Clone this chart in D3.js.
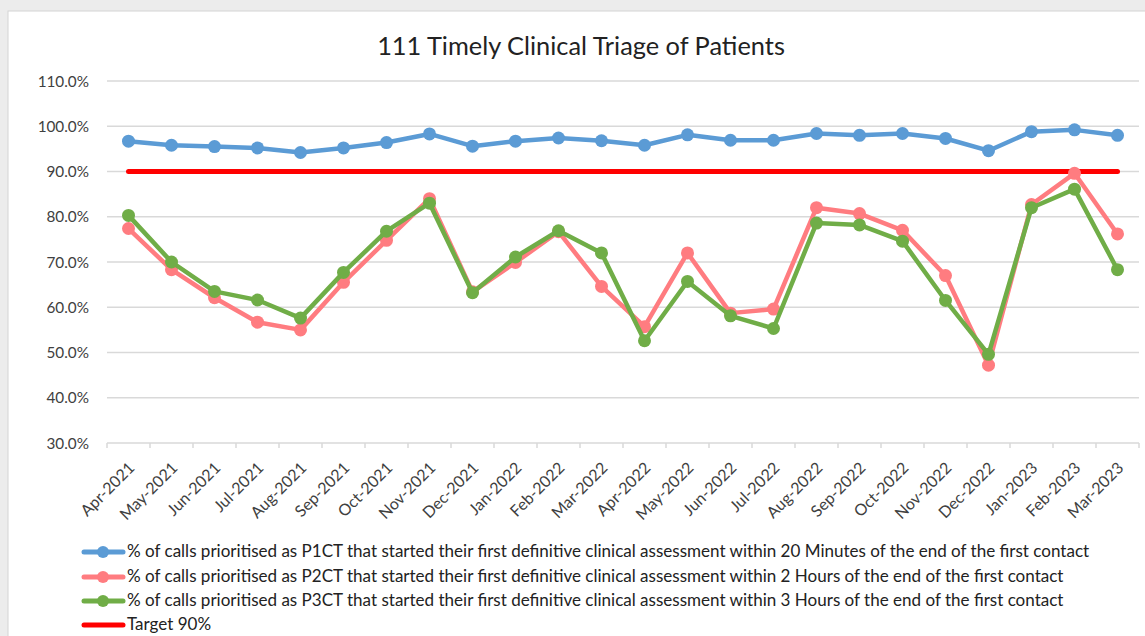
<!DOCTYPE html>
<html><head><meta charset="utf-8">
<script src="https://cdn.jsdelivr.net/npm/d3@7"></script>
<style>html,body{margin:0;padding:0;background:#ececec;overflow:hidden}</style>
</head><body><svg id="c" width="1145" height="636"></svg>
<script>
const months = ["Apr-2021","May-2021","Jun-2021","Jul-2021","Aug-2021","Sep-2021","Oct-2021","Nov-2021","Dec-2021","Jan-2022","Feb-2022","Mar-2022","Apr-2022","May-2022","Jun-2022","Jul-2022","Aug-2022","Sep-2022","Oct-2022","Nov-2022","Dec-2022","Jan-2023","Feb-2023","Mar-2023"];
const p1ct = [96.7,95.8,95.5,95.2,94.2,95.2,96.4,98.3,95.6,96.7,97.4,96.8,95.8,98.1,96.9,96.9,98.4,98.0,98.4,97.3,94.6,98.8,99.2,98.0];
const p2ct = [77.4,68.3,62.1,56.7,55.0,65.5,74.8,84.0,63.4,69.9,76.7,64.6,55.7,72.0,58.7,59.6,82.0,80.7,77.0,67.0,47.2,82.7,89.6,76.2];
const p3ct = [80.3,70.0,63.5,61.6,57.6,67.7,76.8,83.0,63.2,71.1,76.9,72.0,52.6,65.7,58.1,55.3,78.6,78.2,74.6,61.5,49.6,82.0,86.1,68.3];
const target = months.map(() => 90);
const yTicks = [30,40,50,60,70,80,90,100,110];
const seriesNames = [
  "% of calls prioritised as P1CT that started their first definitive clinical assessment within 20 Minutes of the end of the first contact",
  "% of calls prioritised as P2CT that started their first definitive clinical assessment within 2 Hours of the end of the first contact",
  "% of calls prioritised as P3CT that started their first definitive clinical assessment within 3 Hours of the end of the first contact",
  "Target 90%"
];
const colors = ["#5B9BD5","#FF7C80","#70AD47","#FF0000"];
const title = "111 Timely Clinical Triage of Patients";

const svg = d3.select("#c");
const font = "Lato, 'Open Sans', sans-serif";
svg.append("rect").attr("x",8).attr("y",11).attr("width",1160).attr("height",640)
  .attr("fill","#fff").attr("stroke","#d4d4d4").attr("stroke-width",1);

const L = 107, R = 1139, T = 81, B = 443;
const x = d3.scaleBand().domain(months).range([L,R]);
const y = d3.scaleLinear().domain([30,110]).range([B,T]);

const tt = svg.append("text").attr("x",581).attr("y",55).attr("text-anchor","middle")
  .attr("font-family",font).attr("font-size",24).attr("fill","#222").text(title);
{ const w = tt.node().getComputedTextLength(); tt.attr("font-size", 24*408/w); }

// grid
svg.append("g").selectAll("line").data(yTicks).join("line")
  .attr("x1",L).attr("x2",R).attr("y1",d=>y(d)).attr("y2",d=>y(d))
  .attr("stroke","#d9d9d9").attr("stroke-width",1.5);
svg.append("g").selectAll("text").data(yTicks).join("text")
  .attr("x",89).attr("y",d=>y(d)+5.5).attr("text-anchor","end")
  .attr("font-family",font).attr("font-size",15.3).attr("fill","#404040")
  .text(d=>d.toFixed(1)+"%");

// x axis
const xa = svg.append("g").attr("transform",`translate(0,${B})`)
  .call(d3.axisBottom(x).tickSize(0).tickFormat(""));
xa.select(".domain").remove();
const tickPos = months.map((m,i)=>x(m)).concat([R]);
svg.append("g").selectAll("line").data(tickPos).join("line")
  .attr("x1",d=>d).attr("x2",d=>d).attr("y1",B).attr("y2",B+5)
  .attr("stroke","#d9d9d9").attr("stroke-width",1.5);
svg.append("g").selectAll("text").data(months).join("text")
  .attr("transform",d=>`translate(${x(d)+x.bandwidth()/2+7},${B+26}) rotate(-45)`)
  .attr("text-anchor","end").attr("font-family",font).attr("font-size",16).attr("fill","#404040")
  .text(d=>d);

const cx = d => x(d)+x.bandwidth()/2;
svg.append("path").datum(target)
  .attr("d",d3.line().x((d,i)=>cx(months[i])).y(d=>y(d)))
  .attr("fill","none").attr("stroke",colors[3]).attr("stroke-width",5).attr("stroke-linecap","round");

[p1ct,p2ct,p3ct].forEach((s,k)=>{
  const g = svg.append("g");
  g.append("path").datum(s)
    .attr("d",d3.line().x((d,i)=>cx(months[i])).y(d=>y(d)))
    .attr("fill","none").attr("stroke",colors[k]).attr("stroke-width",4.5).attr("stroke-linejoin","round");
  g.selectAll("circle").data(s).join("circle")
    .attr("cx",(d,i)=>cx(months[i])).attr("cy",d=>y(d)).attr("r",6.5).attr("fill",colors[k]);
});

// legend
const ly = [552,577,601,625];
const ltexts = [];
seriesNames.forEach((n,k)=>{
  const g = svg.append("g");
  g.append("line").attr("x1",84).attr("x2",123).attr("y1",ly[k]).attr("y2",ly[k])
    .attr("stroke",colors[k]).attr("stroke-width",5).attr("stroke-linecap","round");
  if(k<3) g.append("circle").attr("cx",103).attr("cy",ly[k]).attr("r",6).attr("fill",colors[k]);
  ltexts.push(g.append("text").attr("x",127).attr("y",ly[k]+5).attr("font-family",font)
    .attr("font-size",14).attr("fill","#222").text(n));
});
const w0 = ltexts[0].node().getComputedTextLength();
const lfs = 14*963/w0;
ltexts.forEach(t=>t.attr("font-size",lfs));
</script></body></html>
